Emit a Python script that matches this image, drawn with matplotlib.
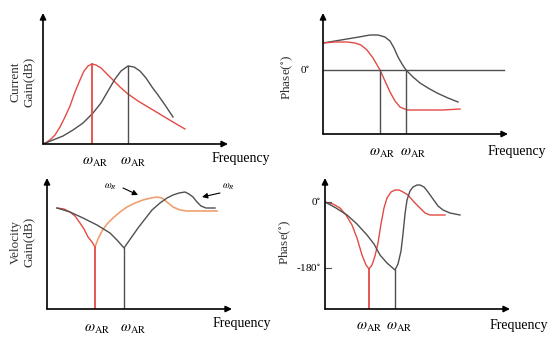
import matplotlib.pyplot as plt

plt.rcParams['font.family'] = ['Liberation Serif', 'DejaVu Serif']
plt.rcParams['mathtext.fontset'] = 'stix'

RED = '#e44a44'
GRAY = '#505050'
ORANGE = '#f0a070'

# ---- panel 1: current gain (sketch values, arbitrary units)
cur_red_x = [0, 4, 8, 12, 17, 22, 27, 32, 37, 41, 45, 49, 53, 58, 64, 70, 77, 85, 95, 105, 115, 125, 135, 142]
cur_red_y = [0, 2, 5, 9, 17, 27, 38, 52, 64, 73, 78, 80, 79, 76, 70, 64, 57, 50, 43, 37, 31, 25, 19, 15]
cur_blk_x = [0, 10, 20, 30, 40, 50, 58, 65, 72, 78, 85, 91, 97, 103, 109, 115, 122, 130]
cur_blk_y = [0, 4, 8, 14, 21, 31, 41, 53, 65, 73, 78, 77, 73, 66, 57, 49, 39, 27]
cur_war = [49, 85]
cur_war_lab = [52, 90]

# ---- panel 2: current phase
ph1_zero = 64
ph1_blk_x = [0, 12, 24, 36, 47, 55, 62, 67, 71, 75, 79, 83, 90, 97, 105, 114, 125, 135]
ph1_blk_y = [91, 93, 95, 97, 99, 99, 97, 93, 86, 77, 70, 64, 57, 51, 46, 41, 36, 32]
ph1_red_x = [0, 12, 24, 32, 38, 44, 50, 57, 62, 67, 72, 77, 84, 100, 120, 137]
ph1_red_y = [91, 92, 92, 91, 89, 84, 76, 64, 53, 42, 33, 27, 24, 24, 24, 25]
ph1_war = [57, 83]
ph1_war_lab = [59, 90]

# ---- panel 3: velocity gain
vel_red_x = [10, 17, 23, 28, 33, 37, 41, 45, 48]
vel_red_y = [101, 100, 97, 93, 86, 80, 72, 67, 62]
vel_org_x = [48, 51, 55, 60, 66, 73, 80, 88, 96, 104, 110, 115, 120, 126, 133, 140, 170]
vel_org_y = [62, 70, 78, 85, 91, 97, 102, 106, 109, 111, 112, 111, 107, 102, 99, 98, 98]
vel_blk_x = [10, 23, 36, 50, 63, 70, 77, 84, 91, 98, 105, 113, 120, 126, 132, 138, 142, 146, 150, 154, 159, 168]
vel_blk_y = [101, 97, 91, 84, 76, 69, 61, 71, 81, 90, 99, 106, 111, 114, 116, 117, 115, 112, 107, 103, 101, 101]
vel_war = [48, 77]
vel_war_lab = [50, 86]

# ---- panel 4: velocity phase
ph2_red_x = [0, 8, 15, 21, 27, 32, 37, 41, 44, 47, 50, 53, 56, 59, 62, 66, 70, 74, 78, 83, 89, 95, 100, 105, 120]
ph2_red_y = [107, 105, 101, 94, 84, 71, 54, 44, 40, 44, 53, 66, 85, 101, 111, 117, 119, 119, 117, 114, 107, 101, 96, 94, 94]
ph2_blk_x = [0, 11, 22, 32, 42, 49, 55, 62, 70, 73, 76, 78, 80, 82, 85, 88, 92, 95, 99, 103, 108, 113, 118, 125, 135]
ph2_blk_y = [107, 101, 94, 85, 74, 65, 54, 46, 39, 45, 58, 75, 95, 109, 118, 122, 124, 124, 122, 117, 110, 103, 99, 96, 94]
ph2_ticks = [107, 41]
ph2_tick_labels = ['0$^{\\circ}$', '-180$^{\\circ}$']
ph2_war = [44, 70]
ph2_war_lab = [44, 74]

W, H = 550, 340
fig = plt.figure(figsize=(5.5, 3.4), dpi=100)


def make_panel(x0, base, top, tip):
    w, h = tip - x0, base - top
    ax = fig.add_axes([x0 / W, 1 - base / H, w / W, h / H])
    ax.set_xlim(0, w)
    ax.set_ylim(0, h)
    ax.axis('off')
    arr = dict(arrowstyle='-|>', color='k', lw=1.2, mutation_scale=9, shrinkA=0, shrinkB=0)
    ax.annotate('', xy=(w, 0), xytext=(0, 0), arrowprops=arr, annotation_clip=False)
    ax.annotate('', xy=(0, h), xytext=(0, 0), arrowprops=arr, annotation_clip=False)
    return ax


def war_labels(ax, xs, y):
    for x in xs:
        ax.text(x, y, '$\\omega_{\\mathrm{AR}}$', fontsize=10.5, ha='center', va='center',
                clip_on=False)


# panel 1
ax1 = make_panel(43, 144, 13, 228)
ax1.plot(cur_red_x, cur_red_y, color=RED, lw=1)
ax1.plot(cur_blk_x, cur_blk_y, color=GRAY, lw=1)
ax1.plot([cur_war[0]] * 2, [0, max(cur_red_y)], color=RED, lw=1.3)
ax1.plot([cur_war[1]] * 2, [0, max(cur_blk_y)], color=GRAY, lw=1)
war_labels(ax1, cur_war_lab, -18)
ax1.text(169, -14, 'Frequency', fontsize=10, va='center', clip_on=False)
ax1.text(-21, 62, 'Current\nGain(dB)', fontsize=9.5, rotation=90, ha='center', va='center',
         clip_on=False, linespacing=1.1, color='#333333')

# panel 2
ax2 = make_panel(323, 134, 13, 508)
ax2.plot([0, 181], [ph1_zero] * 2, color=GRAY, lw=1)
ax2.plot(ph1_blk_x, ph1_blk_y, color=GRAY, lw=1)
ax2.plot(ph1_red_x, ph1_red_y, color=RED, lw=1)
for x in ph1_war:
    ax2.plot([x, x], [0, ph1_zero], color=GRAY, lw=1)
war_labels(ax2, ph1_war_lab, -19)
ax2.text(165, -18, 'Frequency', fontsize=10, va='center', clip_on=False)
ax2.text(-18, ph1_zero, '0$^{\\circ}$', fontsize=8, ha='center', va='center', clip_on=False)
ax2.text(-36, 57, 'Phase($^{\\circ}$)', fontsize=9.5, rotation=90, ha='center', va='center',
         clip_on=False, color='#333333')

# panel 3
ax3 = make_panel(47, 309, 178, 232)
ax3.plot(vel_red_x, vel_red_y, color=RED, lw=1)
ax3.plot(vel_org_x, vel_org_y, color=ORANGE, lw=1.2)
ax3.plot(vel_blk_x, vel_blk_y, color=GRAY, lw=1)
ax3.plot([vel_war[0]] * 2, [0, min(vel_red_y)], color=RED, lw=1.3)
ax3.plot([vel_war[1]] * 2, [0, min(vel_blk_y)], color=GRAY, lw=1)
war_labels(ax3, vel_war_lab, -20)
ax3.text(166, -15, 'Frequency', fontsize=10, va='center', clip_on=False)
ax3.text(-25, 67, 'Velocity\nGain(dB)', fontsize=9.5, rotation=90, ha='center', va='center',
         clip_on=False, linespacing=1.1, color='#333333')
arr_s = dict(arrowstyle='-|>', color='k', lw=0.8, mutation_scale=8, shrinkA=0, shrinkB=0)
ax3.text(63, 122, '$\\omega_{R}$', fontsize=7, ha='center', va='center', clip_on=False)
ax3.annotate('', xy=(91, 114), xytext=(76, 121), arrowprops=arr_s, annotation_clip=False)
ax3.text(181, 122, '$\\omega_{R}$', fontsize=7, ha='center', va='center', clip_on=False)
ax3.annotate('', xy=(155, 112), xytext=(173, 116), arrowprops=arr_s, annotation_clip=False)

# panel 4
ax4 = make_panel(325, 309, 178, 510)
ax4.plot(ph2_red_x, ph2_red_y, color=RED, lw=1)
ax4.plot(ph2_blk_x, ph2_blk_y, color=GRAY, lw=1)
ax4.plot([ph2_war[0]] * 2, [0, min(ph2_red_y)], color=RED, lw=1.3)
ax4.plot([ph2_war[1]] * 2, [0, min(ph2_blk_y)], color=GRAY, lw=1)
for y, lab in zip(ph2_ticks, ph2_tick_labels):
    ax4.plot([0, 6], [y, y], color=GRAY, lw=0.8)
    ax4.text(-4, y, lab, fontsize=8, ha='right', va='center', clip_on=False)
war_labels(ax4, ph2_war_lab, -18)
ax4.text(165, -16, 'Frequency', fontsize=10, va='center', clip_on=False)
ax4.text(-40, 67, 'Phase($^{\\circ}$)', fontsize=9.5, rotation=90, ha='center', va='center',
         clip_on=False, color='#333333')

fig.savefig('out.png', dpi=100, facecolor='white')
